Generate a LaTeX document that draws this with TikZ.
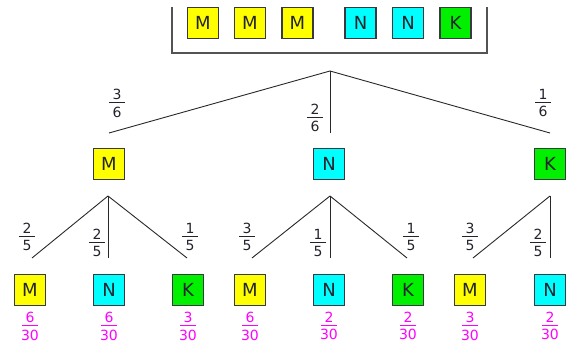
\documentclass[tikz,border=0pt]{standalone}
\usepackage{fontspec}
\setmainfont{DejaVu Sans}
\definecolor{cyel}{RGB}{255,255,0}
\definecolor{ccya}{RGB}{0,255,255}
\definecolor{cgrn}{RGB}{0,240,0}
\definecolor{cmag}{RGB}{255,0,255}
\definecolor{ink}{RGB}{35,35,45}
\definecolor{wire}{RGB}{40,40,40}
% stacked fraction with a fixed-width bar
\newcommand\pfrac[2]{\vbox{\offinterlineskip
  \hbox to 16pt{\hss#1\hss}\kern3pt
  \hrule height 0.8pt\kern3.5pt
  \hbox to 16pt{\hss#2\hss}}}
\begin{document}
\begin{tikzpicture}[x=1pt,y=-1pt,
  ball/.style={draw=ink!90,line width=1.2pt,minimum size=31pt,inner sep=0pt,
    text=ink,font=\fontsize{18}{21}\selectfont},
  M/.style={ball,fill=cyel},
  N/.style={ball,fill=ccya},
  K/.style={ball,fill=cgrn},
  prob/.style={inner sep=0pt,text=ink,font=\fontsize{14}{17}\selectfont},
  res/.style={inner sep=0pt,text=cmag,font=\fontsize{14}{17}\selectfont},
  branch/.style={draw=wire,line width=0.9pt},
  urn/.style={draw=wire!80,line width=1.3pt}]
\useasboundingbox (0,0) rectangle (574,344);

% the urn
\coordinate (u1) at (172,7);
\coordinate (u2) at (172,53);
\coordinate (u3) at (487,53);
\coordinate (u4) at (487,7);
\draw[urn] (u1) -- (u2) -- (u3) -- (u4);
\node[M] (b1) at (203,23) {M};
\node[M] (b2) at (250,23) {M};
\node[M] (b3) at (297.5,23) {M};
\node[N] (b4) at (360.5,23) {N};
\node[N] (b5) at (408,23) {N};
\node[K] (b6) at (455.5,23) {K};

% first draw
\coordinate (root) at (330,71);
\coordinate (e1) at (109,133);
\coordinate (e2) at (330,133);
\coordinate (e3) at (550,133);
\draw[branch] (root) -- (e1);
\draw[branch] (root) -- (e2);
\draw[branch] (root) -- (e3);
\node[prob] (p1) at (117,103) {\pfrac{3}{6}};
\node[prob] (p2) at (315,118) {\pfrac{2}{6}};
\node[prob] (p3) at (543,103) {\pfrac{1}{6}};
\node[M] (m) at (109,164) {M};
\node[N] (n) at (329,164) {N};
\node[K] (k) at (550,164) {K};

% second draw
\coordinate (am) at (108,196);
\coordinate (an) at (330,196);
\coordinate (ak) at (550,196);
\coordinate (f1) at (32,258);
\coordinate (f2) at (108,258);
\coordinate (f3) at (187,258);
\coordinate (f4) at (252,258);
\coordinate (f5) at (330,258);
\coordinate (f6) at (407,258);
\coordinate (f7) at (473,258);
\coordinate (f8) at (550,258);
\draw[branch] (am) -- (f1);
\draw[branch] (am) -- (f2);
\draw[branch] (am) -- (f3);
\draw[branch] (an) -- (f4);
\draw[branch] (an) -- (f5);
\draw[branch] (an) -- (f6);
\draw[branch] (ak) -- (f7);
\draw[branch] (ak) -- (f8);
\node[prob] (q1) at (27,237) {\pfrac{2}{5}};
\node[prob] (q2) at (97,243) {\pfrac{2}{5}};
\node[prob] (q3) at (190,237) {\pfrac{1}{5}};
\node[prob] (q4) at (247,237) {\pfrac{3}{5}};
\node[prob] (q5) at (318,243) {\pfrac{1}{5}};
\node[prob] (q6) at (411,237) {\pfrac{1}{5}};
\node[prob] (q7) at (470,237) {\pfrac{3}{5}};
\node[prob] (q8) at (538,243) {\pfrac{2}{5}};

\node[M] (c1) at (30,290) {M};
\node[N] (c2) at (109,290) {N};
\node[K] (c3) at (188,290) {K};
\node[M] (c4) at (250,290) {M};
\node[N] (c5) at (329,290) {N};
\node[K] (c6) at (408,290) {K};
\node[M] (c7) at (470,290) {M};
\node[N] (c8) at (550,290) {N};

% path probabilities
\node[res] (r1) at (30,326) {\pfrac{6}{30}};
\node[res] (r2) at (109,326) {\pfrac{6}{30}};
\node[res] (r3) at (188,326) {\pfrac{3}{30}};
\node[res] (r4) at (250,326) {\pfrac{6}{30}};
\node[res] (r5) at (329,326) {\pfrac{2}{30}};
\node[res] (r6) at (408,326) {\pfrac{2}{30}};
\node[res] (r7) at (470,326) {\pfrac{3}{30}};
\node[res] (r8) at (550,326) {\pfrac{2}{30}};
\end{tikzpicture}
\end{document}
